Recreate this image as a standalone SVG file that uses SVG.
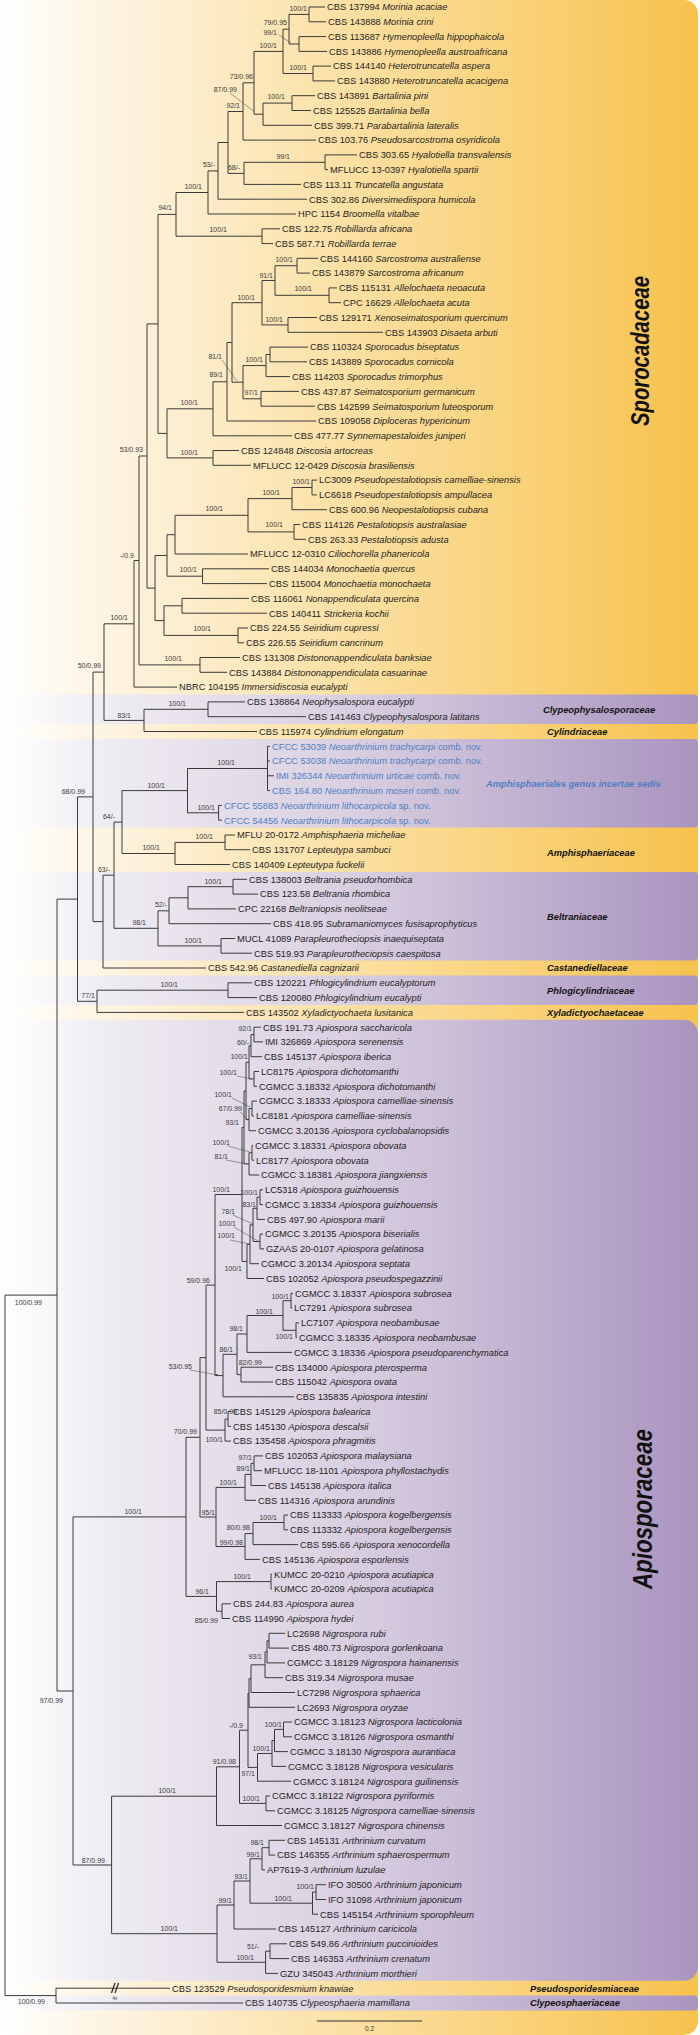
<svg xmlns="http://www.w3.org/2000/svg" width="700" height="2035" viewBox="0 0 700 2035">
<defs>
<linearGradient id="gy" gradientUnits="userSpaceOnUse" x1="0" y1="0" x2="700" y2="0">
<stop offset="0" stop-color="#ffffff"/><stop offset="0.15" stop-color="#fdf4e2"/><stop offset="0.5" stop-color="#fbe0a3"/><stop offset="1" stop-color="#f7c24c"/>
</linearGradient>
<linearGradient id="gp" gradientUnits="userSpaceOnUse" x1="0" y1="0" x2="700" y2="0">
<stop offset="0" stop-color="#ffffff"/><stop offset="0.15" stop-color="#efecf2"/><stop offset="0.5" stop-color="#d9cfe1"/><stop offset="1" stop-color="#a994bf"/>
</linearGradient>
<marker id="ah" viewBox="0 0 6 6" refX="5" refY="3" markerWidth="4" markerHeight="4" orient="auto"><path d="M0 0L6 3L0 6z" fill="#333"/></marker>
<style>
.br{fill:none;stroke:#3a3a3a;stroke-width:1}
.ar{fill:none;stroke:#444;stroke-width:0.5;marker-end:url(#ah)}
text{font-family:"Liberation Sans",Arial,Helvetica,sans-serif}
.t{font-size:9.3px;fill:#1e1e1e}
.i{font-style:italic}
.bl{fill:#4f7fc2}
.s{font-size:7px;fill:#3a3a3a;text-anchor:end}
.f{font-size:9.3px;font-weight:bold;font-style:italic;fill:#111}
.big{font-weight:bold;font-style:italic;fill:#111;text-anchor:middle}
</style>
</defs>
<g id="background">
<rect x="0" y="0" width="698" height="2035" rx="14" fill="url(#gy)"/>
<rect x="0" y="694.5" width="698" height="29.6" rx="4" fill="url(#gp)"/>
<rect x="0" y="738.9" width="698" height="88.7" rx="4" fill="url(#gp)"/>
<rect x="0" y="872.1" width="698" height="88.5" rx="4" fill="url(#gp)"/>
<rect x="0" y="975.4" width="698" height="29.6" rx="4" fill="url(#gp)"/>
<rect x="0" y="1019.8" width="698" height="961" rx="14" fill="url(#gp)"/>
<rect x="0" y="1995.6" width="698" height="14.8" rx="4" fill="url(#gp)"/>
</g>
<g id="connectors">
<path class="br" d="M325 7H309V21.8H326M326 36.6H299V51.4H327M309 14.4H289V44H299M331 66.1H313V80.9H335M289 29.2H283V73.5H313M315 95.7H292V110.5H311M292 103.1H263V125.3H312M283 51.4H254V114.2H263M254 82.8H243V140.1H316M357 154.9H325V169.6H328M325 162.3H244V184.4H301M243 111.5H228V173.4H244M228 142.5H218V199.2H307M218 170.9H208V214H296M280 228.8H262V243.6H273M208 192.5H176V236.2H262"/>
<path class="br" d="M318 258.3H297V273.1H310M337 287.9H329V302.7H341M297 265.7H275V295.3H329M317 317.5H288V332.3H383M275 280.5H262V324.9H288M308 347.1H270V361.8H307M270 354.5H266V376.6H290M299 391.4H261V406.2H315M266 365.6H243V398.8H261M262 302.7H232V382.2H243M232 342.5H227V421H316M227 381.8H213V435.8H292M239 450.5H213V465.3H251M213 408.8H167V457.9H213M176 214.4H158V433.4H167"/>
<path class="br" d="M317 480.1H312V494.9H317M312 487.5H292V509.7H327M300 524.5H294V539.3H306M292 498.6H248V531.9H294M248 515.3H175V554H248M269 568.8H202.5V583.6H267M175 534.7H167V576.2H202.5M249 598.4H182V613.2H267M248 628H238V642.8H244M182 605.8H164V635.4H238M167 555.5H155V620.6H164M158 323.9H147V588.1H155M240 657.5H200V672.3H227M147 456H139V664.9H200M139 560.5H134V687.1H177M245 701.9H208V716.7H306M208 709.3H144V731.5H257M134 623.8H104V720.4H144"/>
<path class="br" d="M270 746.3H267.5V790.6H270M267.5 761H270M267.5 775.8H274M222 805.4H218.6V820.2H222M267.5 768.5H187.5V812.8H218.6M235 835H225V849.7H250M225 842.4H175V864.5H230M187.5 790.6H122V853.5H175M247 879.3H233V894.1H258M233 886.7H188V908.9H236M188 897.8H169V923.7H271M235 938.5H221V953.2H252M169 910.8H158V945.9H221M122 822.1H114V928.3H158M114 875.2H103V968H206M104 672.1H93V921.6H103M252 982.8H228V997.6H257M228 990.2H97V1012.4H244M93 796.9H77.5V1001.3H97"/>
<path class="br" d="M261 1027.2H254V1041.9H263M254 1034.6H251V1056.7H262M259 1071.5H254V1086.3H257M251 1045.7H249V1078.9H254M257 1101.1H252V1115.9H254M252 1108.5H249V1130.7H256M249 1062.3H246V1119.6H249M253 1145.4H252V1160.2H254M252 1152.8H249V1175H259M246 1091H244V1163.9H249M263 1189.8H260V1204.6H263M260 1197.2H257V1219.4H265M263 1234.1H260V1248.9H264M257 1208.3H253V1241.5H260M253 1224.9H250V1263.7H259M250 1244.3H247V1278.5H264M244 1127.5H242V1261.4H247"/>
<path class="br" d="M293 1293.3H291V1308.1H292M299 1322.9H296V1337.6H297M291 1300.7H283V1330.3H296M283 1315.5H247V1352.4H292M273 1367.2H241V1382H273M247 1334H237V1374.6H241M237 1354.3H223V1396.8H294M242 1194.5H215V1375.6H223M231 1411.6H228V1426.3H231M228 1419H225V1441.1H231M215 1285.1H206V1430.1H225M263 1455.9H254V1470.7H262M254 1463.3H251V1485.5H266M251 1474.4H245V1500.3H256M288 1515.1H284V1529.8H288M284 1522.5H253V1544.6H298M253 1533.6H245V1559.4H260M245 1487.4H216V1546.5H245M206 1357.6H200V1517H216M272 1574.2H271V1589H272M231 1603.8H222V1618.5H230M271 1581.6H216.5V1611.2H222M200 1437.3H186V1596.4H216.5"/>
<path class="br" d="M285 1633.3H269V1648.1H289M269 1640.7H267V1662.9H285M267 1651.8H265V1677.7H283M265 1664.8H251V1692.5H295M251 1678.7H249V1707.3H295M292 1722H283.5V1736.8H292M283.5 1729.4H274.5V1751.6H288M274.5 1740.5H272V1766.4H286M272 1753.5H257.5V1781.2H291M249 1693H248V1767.4H257.5M270 1796H266V1810.8H275M248 1730.2H239.5V1803.4H266M239.5 1766.8H216.5V1825.5H282"/>
<path class="br" d="M285 1840.3H269V1855.1H275M269 1847.7H262V1869.9H265M326 1884.7H316V1899.5H326M316 1892.1H312.5V1914.2H318M262 1858.8H250V1903.2H312.5M250 1881H234V1929H276M287 1943.8H270V1958.6H289M270 1951.2H265.6V1973.4H278M234 1905H217V1962.3H265.6M216.5 1796.2H111.6V1933.7H217M186 1516.9H73V1865H111.6M77.5 899.1H57V1691H73M170 1988.2H56V2003H243M57 1295.1H5V1995.6H56"/>
<path d="M111.5 1993L115 1983M115 1993L118.5 1983" fill="none" stroke="#333" stroke-width="1.3"/>
<path class="ar" d="M279 35L291 43M230 93L254 111.5M222 360L237 381M237 1076L252 1079M232 1098L250 1107M240 1112L247 1119M228 1146L250 1152M226 1160L247 1164M233 1215L253 1224M234 1227L258 1241M230 1240L250 1244M190 1370L218 1375"/>
</g>
<g id="support">
<text class="s" x="307" y="11">100/1</text><text class="s" x="287" y="25">79/0.95</text><text class="s" x="277" y="35">99/1</text><text class="s" x="277" y="48">100/1</text><text class="s" x="307" y="70">100/1</text><text class="s" x="253" y="79">73/0.96</text><text class="s" x="237" y="92">87/0.99</text><text class="s" x="285" y="99">100/1</text><text class="s" x="240" y="108">92/1</text><text class="s" x="290" y="159">99/1</text><text class="s" x="215" y="167">53/-</text><text class="s" x="240" y="170">68/-</text><text class="s" x="202" y="189">100/1</text><text class="s" x="172" y="210">94/1</text><text class="s" x="227" y="232">100/1</text>
<text class="s" x="293" y="262">100/1</text><text class="s" x="273" y="278">91/1</text><text class="s" x="312" y="291">100/1</text><text class="s" x="255" y="300">100/1</text><text class="s" x="283" y="322">100/1</text><text class="s" x="222" y="359">81/1</text><text class="s" x="263" y="362">100/1</text><text class="s" x="223" y="377">89/1</text><text class="s" x="258" y="395">97/1</text><text class="s" x="198" y="405">100/1</text><text class="s" x="143" y="452">53/0.93</text><text class="s" x="198" y="455">100/1</text>
<text class="s" x="310" y="484">100/1</text><text class="s" x="280" y="495">100/1</text><text class="s" x="223" y="511">100/1</text><text class="s" x="283" y="527">100/1</text><text class="s" x="134" y="558">-/0.9</text><text class="s" x="197" y="572">100/1</text><text class="s" x="128" y="620">100/1</text><text class="s" x="211" y="631">100/1</text><text class="s" x="182" y="661">100/1</text><text class="s" x="101" y="668">50/0.99</text><text class="s" x="186" y="706">100/1</text><text class="s" x="131" y="718">83/1</text>
<text class="s" x="235" y="765">100/1</text><text class="s" x="165" y="788">100/1</text><text class="s" x="85" y="794">68/0.99</text><text class="s" x="215" y="810">100/1</text><text class="s" x="115" y="819">64/-</text><text class="s" x="213" y="839">100/1</text><text class="s" x="160" y="850">100/1</text><text class="s" x="110" y="872">63/-</text><text class="s" x="222" y="884">100/1</text><text class="s" x="167" y="907">52/-</text><text class="s" x="146" y="925">98/1</text><text class="s" x="202" y="943">100/1</text><text class="s" x="178" y="987">100/1</text><text class="s" x="95" y="998">77/1</text>
<text class="s" x="252" y="1031">92/1</text><text class="s" x="249" y="1045">60/-</text><text class="s" x="248" y="1059">100/1</text><text class="s" x="237" y="1075">100/1</text><text class="s" x="232" y="1097">100/1</text><text class="s" x="242" y="1111">67/0.99</text><text class="s" x="239" y="1125">93/1</text><text class="s" x="230" y="1145">100/1</text><text class="s" x="228" y="1159">81/1</text><text class="s" x="230" y="1192">100/1</text><text class="s" x="258" y="1195">100/1</text><text class="s" x="256" y="1207">83/1</text><text class="s" x="235" y="1214">78/1</text><text class="s" x="236" y="1226">100/1</text><text class="s" x="235" y="1238">100/1</text><text class="s" x="242" y="1271">100/1</text>
<text class="s" x="210" y="1283">59/0.96</text><text class="s" x="289" y="1299">100/1</text><text class="s" x="273" y="1314">100/1</text><text class="s" x="243" y="1331">98/1</text><text class="s" x="293" y="1339">100/1</text><text class="s" x="233" y="1352">86/1</text><text class="s" x="262" y="1365">82/0.99</text><text class="s" x="192" y="1369">53/0.95</text><text class="s" x="237" y="1414">85/0.99</text><text class="s" x="197" y="1434">70/0.99</text><text class="s" x="223" y="1442">100/1</text>
<text class="s" x="252" y="1460">97/1</text><text class="s" x="250" y="1471">89/1</text><text class="s" x="237" y="1485">100/1</text><text class="s" x="142" y="1514">100/1</text><text class="s" x="215" y="1515">95/1</text><text class="s" x="277" y="1520">100/1</text><text class="s" x="250" y="1530">80/0.98</text><text class="s" x="243" y="1545">99/0.98</text><text class="s" x="251" y="1579">100/1</text><text class="s" x="209" y="1594">96/1</text><text class="s" x="218" y="1623">85/0.99</text>
<text class="s" x="262" y="1659">93/1</text><text class="s" x="63" y="1703">97/0.99</text><text class="s" x="282" y="1727">100/1</text><text class="s" x="243" y="1728">-/0.9</text><text class="s" x="270" y="1751">100/1</text><text class="s" x="236" y="1764">91/0.98</text><text class="s" x="255" y="1776">97/1</text><text class="s" x="176" y="1793">100/1</text><text class="s" x="260" y="1801">100/1</text>
<text class="s" x="264" y="1845">98/1</text><text class="s" x="260" y="1857">99/1</text><text class="s" x="105" y="1863">87/0.99</text><text class="s" x="248" y="1879">93/1</text><text class="s" x="314" y="1889">100/1</text><text class="s" x="292" y="1901">100/1</text><text class="s" x="232" y="1903">99/1</text><text class="s" x="178" y="1931">100/1</text><text class="s" x="259" y="1949">51/-</text><text class="s" x="254" y="1960">100/1</text>
<text class="s" x="42" y="1305">100/0.99</text><text class="s" x="45" y="2004">100/0.99</text>
<text x="115" y="2000" style="font-size:4.5px;fill:#333;text-anchor:middle">4x</text>
</g>
<g id="tips" class="t">
<g id="t001"><text x="327" y="10.3">CBS 137994 <tspan class="i">Morinia acaciae</tspan></text></g>
<g id="t002"><text x="328" y="25.1">CBS 143888 <tspan class="i">Morinia crini</tspan></text></g>
<g id="t003"><text x="328" y="39.9">CBS 113687 <tspan class="i">Hymenopleella hippophaicola</tspan></text></g>
<g id="t004"><text x="329" y="54.7">CBS 143886 <tspan class="i">Hymenopleella austroafricana</tspan></text></g>
<g id="t005"><text x="333" y="69.4">CBS 144140 <tspan class="i">Heterotruncatella aspera</tspan></text></g>
<g id="t006"><text x="337" y="84.2">CBS 143880 <tspan class="i">Heterotruncatella acacigena</tspan></text></g>
<g id="t007"><text x="317" y="99">CBS 143891 <tspan class="i">Bartalinia pini</tspan></text></g>
<g id="t008"><text x="313" y="113.8">CBS 125525 <tspan class="i">Bartalinia bella</tspan></text></g>
<g id="t009"><text x="314" y="128.6">CBS 399.71 <tspan class="i">Parabartalinia lateralis</tspan></text></g>
<g id="t010"><text x="318" y="143.4">CBS 103.76 <tspan class="i">Pseudosarcostroma osyridicola</tspan></text></g>
<g id="t011"><text x="359" y="158.2">CBS 303.65 <tspan class="i">Hyalotiella transvalensis</tspan></text></g>
<g id="t012"><text x="330" y="172.9">MFLUCC 13-0397 <tspan class="i">Hyalotiella spartii</tspan></text></g>
<g id="t013"><text x="303" y="187.7">CBS 113.11 <tspan class="i">Truncatella angustata</tspan></text></g>
<g id="t014"><text x="309" y="202.5">CBS 302.86 <tspan class="i">Diversimediispora humicola</tspan></text></g>
<g id="t015"><text x="298" y="217.3">HPC 1154 <tspan class="i">Broomella vitalbae</tspan></text></g>
<g id="t016"><text x="282" y="232.1">CBS 122.75 <tspan class="i">Robillarda africana</tspan></text></g>
<g id="t017"><text x="275" y="246.9">CBS 587.71 <tspan class="i">Robillarda terrae</tspan></text></g>
<g id="t018"><text x="320" y="261.6">CBS 144160 <tspan class="i">Sarcostroma australiense</tspan></text></g>
<g id="t019"><text x="312" y="276.4">CBS 143879 <tspan class="i">Sarcostroma africanum</tspan></text></g>
<g id="t020"><text x="339" y="291.2">CBS 115131 <tspan class="i">Allelochaeta neoacuta</tspan></text></g>
<g id="t021"><text x="343" y="306">CPC 16629 <tspan class="i">Allelochaeta acuta</tspan></text></g>
<g id="t022"><text x="319" y="320.8">CBS 129171 <tspan class="i">Xenoseimatosporium quercinum</tspan></text></g>
<g id="t023"><text x="385" y="335.6">CBS 143903 <tspan class="i">Disaeta arbuti</tspan></text></g>
<g id="t024"><text x="310" y="350.4">CBS 110324 <tspan class="i">Sporocadus biseptatus</tspan></text></g>
<g id="t025"><text x="309" y="365.1">CBS 143889 <tspan class="i">Sporocadus cornicola</tspan></text></g>
<g id="t026"><text x="292" y="379.9">CBS 114203 <tspan class="i">Sporocadus trimorphus</tspan></text></g>
<g id="t027"><text x="301" y="394.7">CBS 437.87 <tspan class="i">Seimatosporium germanicum</tspan></text></g>
<g id="t028"><text x="317" y="409.5">CBS 142599 <tspan class="i">Seimatosporium luteosporum</tspan></text></g>
<g id="t029"><text x="318" y="424.3">CBS 109058 <tspan class="i">Diploceras hypericinum</tspan></text></g>
<g id="t030"><text x="294" y="439.1">CBS 477.77 <tspan class="i">Synnemapestaloides juniperi</tspan></text></g>
<g id="t031"><text x="241" y="453.8">CBS 124848 <tspan class="i">Discosia artocreas</tspan></text></g>
<g id="t032"><text x="253" y="468.6">MFLUCC 12-0429 <tspan class="i">Discosia brasiliensis</tspan></text></g>
<g id="t033"><text x="319" y="483.4">LC3009 <tspan class="i">Pseudopestalotiopsis camelliae-sinensis</tspan></text></g>
<g id="t034"><text x="319" y="498.2">LC6618 <tspan class="i">Pseudopestalotiopsis ampullacea</tspan></text></g>
<g id="t035"><text x="329" y="513">CBS 600.96 <tspan class="i">Neopestalotiopsis cubana</tspan></text></g>
<g id="t036"><text x="302" y="527.8">CBS 114126 <tspan class="i">Pestalotiopsis australasiae</tspan></text></g>
<g id="t037"><text x="308" y="542.6">CBS 263.33 <tspan class="i">Pestalotiopsis adusta</tspan></text></g>
<g id="t038"><text x="250" y="557.3">MFLUCC 12-0310 <tspan class="i">Ciliochorella phanericola</tspan></text></g>
<g id="t039"><text x="271" y="572.1">CBS 144034 <tspan class="i">Monochaetia quercus</tspan></text></g>
<g id="t040"><text x="269" y="586.9">CBS 115004 <tspan class="i">Monochaetia monochaeta</tspan></text></g>
<g id="t041"><text x="251" y="601.7">CBS 116061 <tspan class="i">Nonappendiculata quercina</tspan></text></g>
<g id="t042"><text x="269" y="616.5">CBS 140411 <tspan class="i">Strickeria kochii</tspan></text></g>
<g id="t043"><text x="250" y="631.3">CBS 224.55 <tspan class="i">Seiridium cupressi</tspan></text></g>
<g id="t044"><text x="246" y="646.1">CBS 226.55 <tspan class="i">Seiridium cancrinum</tspan></text></g>
<g id="t045"><text x="242" y="660.8">CBS 131308 <tspan class="i">Distononappendiculata banksiae</tspan></text></g>
<g id="t046"><text x="229" y="675.6">CBS 143884 <tspan class="i">Distononappendiculata casuarinae</tspan></text></g>
<g id="t047"><text x="179" y="690.4">NBRC 104195 <tspan class="i">Immersidiscosia eucalypti</tspan></text></g>
<g id="t048"><text x="247" y="705.2">CBS 138864 <tspan class="i">Neophysalospora eucalypti</tspan></text></g>
<g id="t049"><text x="308" y="720">CBS 141463 <tspan class="i">Clypeophysalospora latitans</tspan></text></g>
<g id="t050"><text x="259" y="734.8">CBS 115974 <tspan class="i">Cylindrium elongatum</tspan></text></g>
<g id="t051"><text class="bl" x="272" y="749.6">CFCC 53039 <tspan class="i">Neoarthrinium trachycarpi</tspan> comb. nov.</text></g>
<g id="t052"><text class="bl" x="272" y="764.3">CFCC 53038 <tspan class="i">Neoarthrinium trachycarpi</tspan> comb. nov.</text></g>
<g id="t053"><text class="bl" x="276" y="779.1">IMI 326344 <tspan class="i">Neoarthrinium urticae</tspan> comb. nov.</text></g>
<g id="t054"><text class="bl" x="272" y="793.9">CBS 164.80 <tspan class="i">Neoarthrinium moseri</tspan> comb. nov.</text></g>
<g id="t055"><text class="bl" x="224" y="808.7">CFCC 55883 <tspan class="i">Neoarthrinium lithocarpicola</tspan> sp. nov.</text></g>
<g id="t056"><text class="bl" x="224" y="823.5">CFCC 54456 <tspan class="i">Neoarthrinium lithocarpicola</tspan> sp. nov.</text></g>
<g id="t057"><text x="237" y="838.3">MFLU 20-0172 <tspan class="i">Amphisphaeria micheliae</tspan></text></g>
<g id="t058"><text x="252" y="853">CBS 131707 <tspan class="i">Lepteutypa sambuci</tspan></text></g>
<g id="t059"><text x="232" y="867.8">CBS 140409 <tspan class="i">Lepteutypa fuckelii</tspan></text></g>
<g id="t060"><text x="249" y="882.6">CBS 138003 <tspan class="i">Beltrania pseudorhombica</tspan></text></g>
<g id="t061"><text x="260" y="897.4">CBS 123.58 <tspan class="i">Beltrania rhombica</tspan></text></g>
<g id="t062"><text x="238" y="912.2">CPC 22168 <tspan class="i">Beltraniopsis neolitseae</tspan></text></g>
<g id="t063"><text x="273" y="927">CBS 418.95 <tspan class="i">Subramaniomyces fusisaprophyticus</tspan></text></g>
<g id="t064"><text x="237" y="941.8">MUCL 41089 <tspan class="i">Parapleurotheciopsis inaequiseptata</tspan></text></g>
<g id="t065"><text x="254" y="956.5">CBS 519.93 <tspan class="i">Parapleurotheciopsis caespitosa</tspan></text></g>
<g id="t066"><text x="208" y="971.3">CBS 542.96 <tspan class="i">Castanediella cagnizarii</tspan></text></g>
<g id="t067"><text x="254" y="986.1">CBS 120221 <tspan class="i">Phlogicylindrium eucalyptorum</tspan></text></g>
<g id="t068"><text x="259" y="1000.9">CBS 120080 <tspan class="i">Phlogicylindrium eucalypti</tspan></text></g>
<g id="t069"><text x="246" y="1015.7">CBS 143502 <tspan class="i">Xyladictyochaeta lusitanica</tspan></text></g>
<g id="t070"><text x="263" y="1030.5">CBS 191.73 <tspan class="i">Apiospora saccharicola</tspan></text></g>
<g id="t071"><text x="265" y="1045.2">IMI 326869 <tspan class="i">Apiospora serenensis</tspan></text></g>
<g id="t072"><text x="264" y="1060">CBS 145137 <tspan class="i">Apiospora iberica</tspan></text></g>
<g id="t073"><text x="261" y="1074.8">LC8175 <tspan class="i">Apiospora dichotomanthi</tspan></text></g>
<g id="t074"><text x="259" y="1089.6">CGMCC 3.18332 <tspan class="i">Apiospora dichotomanthi</tspan></text></g>
<g id="t075"><text x="259" y="1104.4">CGMCC 3.18333 <tspan class="i">Apiospora camelliae-sinensis</tspan></text></g>
<g id="t076"><text x="256" y="1119.2">LC8181 <tspan class="i">Apiospora camelliae-sinensis</tspan></text></g>
<g id="t077"><text x="258" y="1134">CGMCC 3.20136 <tspan class="i">Apiospora cyclobalanopsidis</tspan></text></g>
<g id="t078"><text x="255" y="1148.7">CGMCC 3.18331 <tspan class="i">Apiospora obovata</tspan></text></g>
<g id="t079"><text x="256" y="1163.5">LC8177 <tspan class="i">Apiospora obovata</tspan></text></g>
<g id="t080"><text x="261" y="1178.3">CGMCC 3.18381 <tspan class="i">Apiospora jiangxiensis</tspan></text></g>
<g id="t081"><text x="265" y="1193.1">LC5318 <tspan class="i">Apiospora guizhouensis</tspan></text></g>
<g id="t082"><text x="265" y="1207.9">CGMCC 3.18334 <tspan class="i">Apiospora guizhouensis</tspan></text></g>
<g id="t083"><text x="267" y="1222.7">CBS 497.90 <tspan class="i">Apiospora marii</tspan></text></g>
<g id="t084"><text x="265" y="1237.4">CGMCC 3.20135 <tspan class="i">Apiospora biserialis</tspan></text></g>
<g id="t085"><text x="266" y="1252.2">GZAAS 20-0107 <tspan class="i">Apiospora gelatinosa</tspan></text></g>
<g id="t086"><text x="261" y="1267">CGMCC 3.20134 <tspan class="i">Apiospora septata</tspan></text></g>
<g id="t087"><text x="266" y="1281.8">CBS 102052 <tspan class="i">Apiospora pseudospegazzinii</tspan></text></g>
<g id="t088"><text x="295" y="1296.6">CGMCC 3.18337 <tspan class="i">Apiospora subrosea</tspan></text></g>
<g id="t089"><text x="294" y="1311.4">LC7291 <tspan class="i">Apiospora subrosea</tspan></text></g>
<g id="t090"><text x="301" y="1326.2">LC7107 <tspan class="i">Apiospora neobambusae</tspan></text></g>
<g id="t091"><text x="299" y="1340.9">CGMCC 3.18335 <tspan class="i">Apiospora neobambusae</tspan></text></g>
<g id="t092"><text x="294" y="1355.7">CGMCC 3.18336 <tspan class="i">Apiospora pseudoparenchymatica</tspan></text></g>
<g id="t093"><text x="275" y="1370.5">CBS 134000 <tspan class="i">Apiospora pterosperma</tspan></text></g>
<g id="t094"><text x="275" y="1385.3">CBS 115042 <tspan class="i">Apiospora ovata</tspan></text></g>
<g id="t095"><text x="296" y="1400.1">CBS 135835 <tspan class="i">Apiospora intestini</tspan></text></g>
<g id="t096"><text x="233" y="1414.9">CBS 145129 <tspan class="i">Apiospora balearica</tspan></text></g>
<g id="t097"><text x="233" y="1429.6">CBS 145130 <tspan class="i">Apiospora descalsii</tspan></text></g>
<g id="t098"><text x="233" y="1444.4">CBS 135458 <tspan class="i">Apiospora phragmitis</tspan></text></g>
<g id="t099"><text x="265" y="1459.2">CBS 102053 <tspan class="i">Apiospora malaysiana</tspan></text></g>
<g id="t100"><text x="264" y="1474">MFLUCC 18-1101 <tspan class="i">Apiospora phyllostachydis</tspan></text></g>
<g id="t101"><text x="268" y="1488.8">CBS 145138 <tspan class="i">Apiospora italica</tspan></text></g>
<g id="t102"><text x="258" y="1503.6">CBS 114316 <tspan class="i">Apiospora arundinis</tspan></text></g>
<g id="t103"><text x="290" y="1518.4">CBS 113333 <tspan class="i">Apiospora kogelbergensis</tspan></text></g>
<g id="t104"><text x="290" y="1533.1">CBS 113332 <tspan class="i">Apiospora kogelbergensis</tspan></text></g>
<g id="t105"><text x="300" y="1547.9">CBS 595.66 <tspan class="i">Apiospora xenocordella</tspan></text></g>
<g id="t106"><text x="262" y="1562.7">CBS 145136 <tspan class="i">Apiospora esporlensis</tspan></text></g>
<g id="t107"><text x="274" y="1577.5">KUMCC 20-0210 <tspan class="i">Apiospora acutiapica</tspan></text></g>
<g id="t108"><text x="274" y="1592.3">KUMCC 20-0209 <tspan class="i">Apiospora acutiapica</tspan></text></g>
<g id="t109"><text x="233" y="1607.1">CBS 244.83 <tspan class="i">Apiospora aurea</tspan></text></g>
<g id="t110"><text x="232" y="1621.8">CBS 114990 <tspan class="i">Apiospora hydei</tspan></text></g>
<g id="t111"><text x="287" y="1636.6">LC2698 <tspan class="i">Nigrospora rubi</tspan></text></g>
<g id="t112"><text x="291" y="1651.4">CBS 480.73 <tspan class="i">Nigrospora gorlenkoana</tspan></text></g>
<g id="t113"><text x="287" y="1666.2">CGMCC 3.18129 <tspan class="i">Nigrospora hainanensis</tspan></text></g>
<g id="t114"><text x="285" y="1681">CBS 319.34 <tspan class="i">Nigrospora musae</tspan></text></g>
<g id="t115"><text x="297" y="1695.8">LC7298 <tspan class="i">Nigrospora sphaerica</tspan></text></g>
<g id="t116"><text x="297" y="1710.6">LC2693 <tspan class="i">Nigrospora oryzae</tspan></text></g>
<g id="t117"><text x="294" y="1725.3">CGMCC 3.18123 <tspan class="i">Nigrospora lacticolonia</tspan></text></g>
<g id="t118"><text x="294" y="1740.1">CGMCC 3.18126 <tspan class="i">Nigrospora osmanthi</tspan></text></g>
<g id="t119"><text x="290" y="1754.9">CGMCC 3.18130 <tspan class="i">Nigrospora aurantiaca</tspan></text></g>
<g id="t120"><text x="288" y="1769.7">CGMCC 3.18128 <tspan class="i">Nigrospora vesicularis</tspan></text></g>
<g id="t121"><text x="293" y="1784.5">CGMCC 3.18124 <tspan class="i">Nigrospora guilinensis</tspan></text></g>
<g id="t122"><text x="272" y="1799.3">CGMCC 3.18122 <tspan class="i">Nigrospora pyriformis</tspan></text></g>
<g id="t123"><text x="277" y="1814.1">CGMCC 3.18125 <tspan class="i">Nigrospora camelliae-sinensis</tspan></text></g>
<g id="t124"><text x="284" y="1828.8">CGMCC 3.18127 <tspan class="i">Nigrospora chinensis</tspan></text></g>
<g id="t125"><text x="287" y="1843.6">CBS 145131 <tspan class="i">Arthrinium curvatum</tspan></text></g>
<g id="t126"><text x="277" y="1858.4">CBS 146355 <tspan class="i">Arthrinium sphaerospermum</tspan></text></g>
<g id="t127"><text x="267" y="1873.2">AP7619-3 <tspan class="i">Arthrinium luzulae</tspan></text></g>
<g id="t128"><text x="328" y="1888">IFO 30500 <tspan class="i">Arthrinium japonicum</tspan></text></g>
<g id="t129"><text x="328" y="1902.8">IFO 31098 <tspan class="i">Arthrinium japonicum</tspan></text></g>
<g id="t130"><text x="320" y="1917.5">CBS 145154 <tspan class="i">Arthrinium sporophleum</tspan></text></g>
<g id="t131"><text x="278" y="1932.3">CBS 145127 <tspan class="i">Arthrinium caricicola</tspan></text></g>
<g id="t132"><text x="289" y="1947.1">CBS 549.86 <tspan class="i">Arthrinium puccinioides</tspan></text></g>
<g id="t133"><text x="291" y="1961.9">CBS 146353 <tspan class="i">Arthrinium crenatum</tspan></text></g>
<g id="t134"><text x="280" y="1976.7">GZU 345043 <tspan class="i">Arthrinium morthieri</tspan></text></g>
<g id="t135"><text x="172" y="1991.5">CBS 123529 <tspan class="i">Pseudosporidesmium knawiae</tspan></text></g>
<g id="t136"><text x="245" y="2006.3">CBS 140735 <tspan class="i">Clypeosphaeria mamillana</tspan></text></g>
</g>
<g id="families">
<g id="fam-sporocadaceae"><text class="big" style="font-size:26px" textLength="150" lengthAdjust="spacingAndGlyphs" transform="translate(648.5 351) rotate(-90)">Sporocadaceae</text></g>
<g id="fam-clypeophysalosporaceae"><text class="f" x="543" y="712.6">Clypeophysalosporaceae</text></g>
<g id="fam-cylindriaceae"><text class="f" x="547" y="734.8">Cylindriaceae</text></g>
<g id="fam-incertae"><text class="f" x="486" y="786.6" style="fill:#4f7fc2">Amphisphaeriales genus incertae sedis</text></g>
<g id="fam-amphisphaeriaceae"><text class="f" x="547" y="856">Amphisphaeriaceae</text></g>
<g id="fam-beltraniaceae"><text class="f" x="547" y="919.6">Beltraniaceae</text></g>
<g id="fam-castanediellaceae"><text class="f" x="547" y="971.3">Castanediellaceae</text></g>
<g id="fam-phlogicylindriaceae"><text class="f" x="547" y="993.5">Phlogicylindriaceae</text></g>
<g id="fam-xyladictyochaetaceae"><text class="f" x="547" y="1015.7">Xyladictyochaetaceae</text></g>
<g id="fam-apiosporaceae"><text class="big" style="font-size:28px" textLength="160" lengthAdjust="spacingAndGlyphs" transform="translate(652 1509) rotate(-90)">Apiosporaceae</text></g>
<g id="fam-pseudosporidesmiaceae"><text class="f" x="530" y="1991.5">Pseudosporidesmiaceae</text></g>
<g id="fam-clypeosphaeriaceae"><text class="f" x="530" y="2006.3">Clypeosphaeriaceae</text></g>
</g>
<g id="scale">
<path d="M317 2021H422" stroke="#333" stroke-width="1"/>
<text x="369.5" y="2031" style="font-size:6.5px;fill:#333;text-anchor:middle">0.2</text>
</g>
</svg>
